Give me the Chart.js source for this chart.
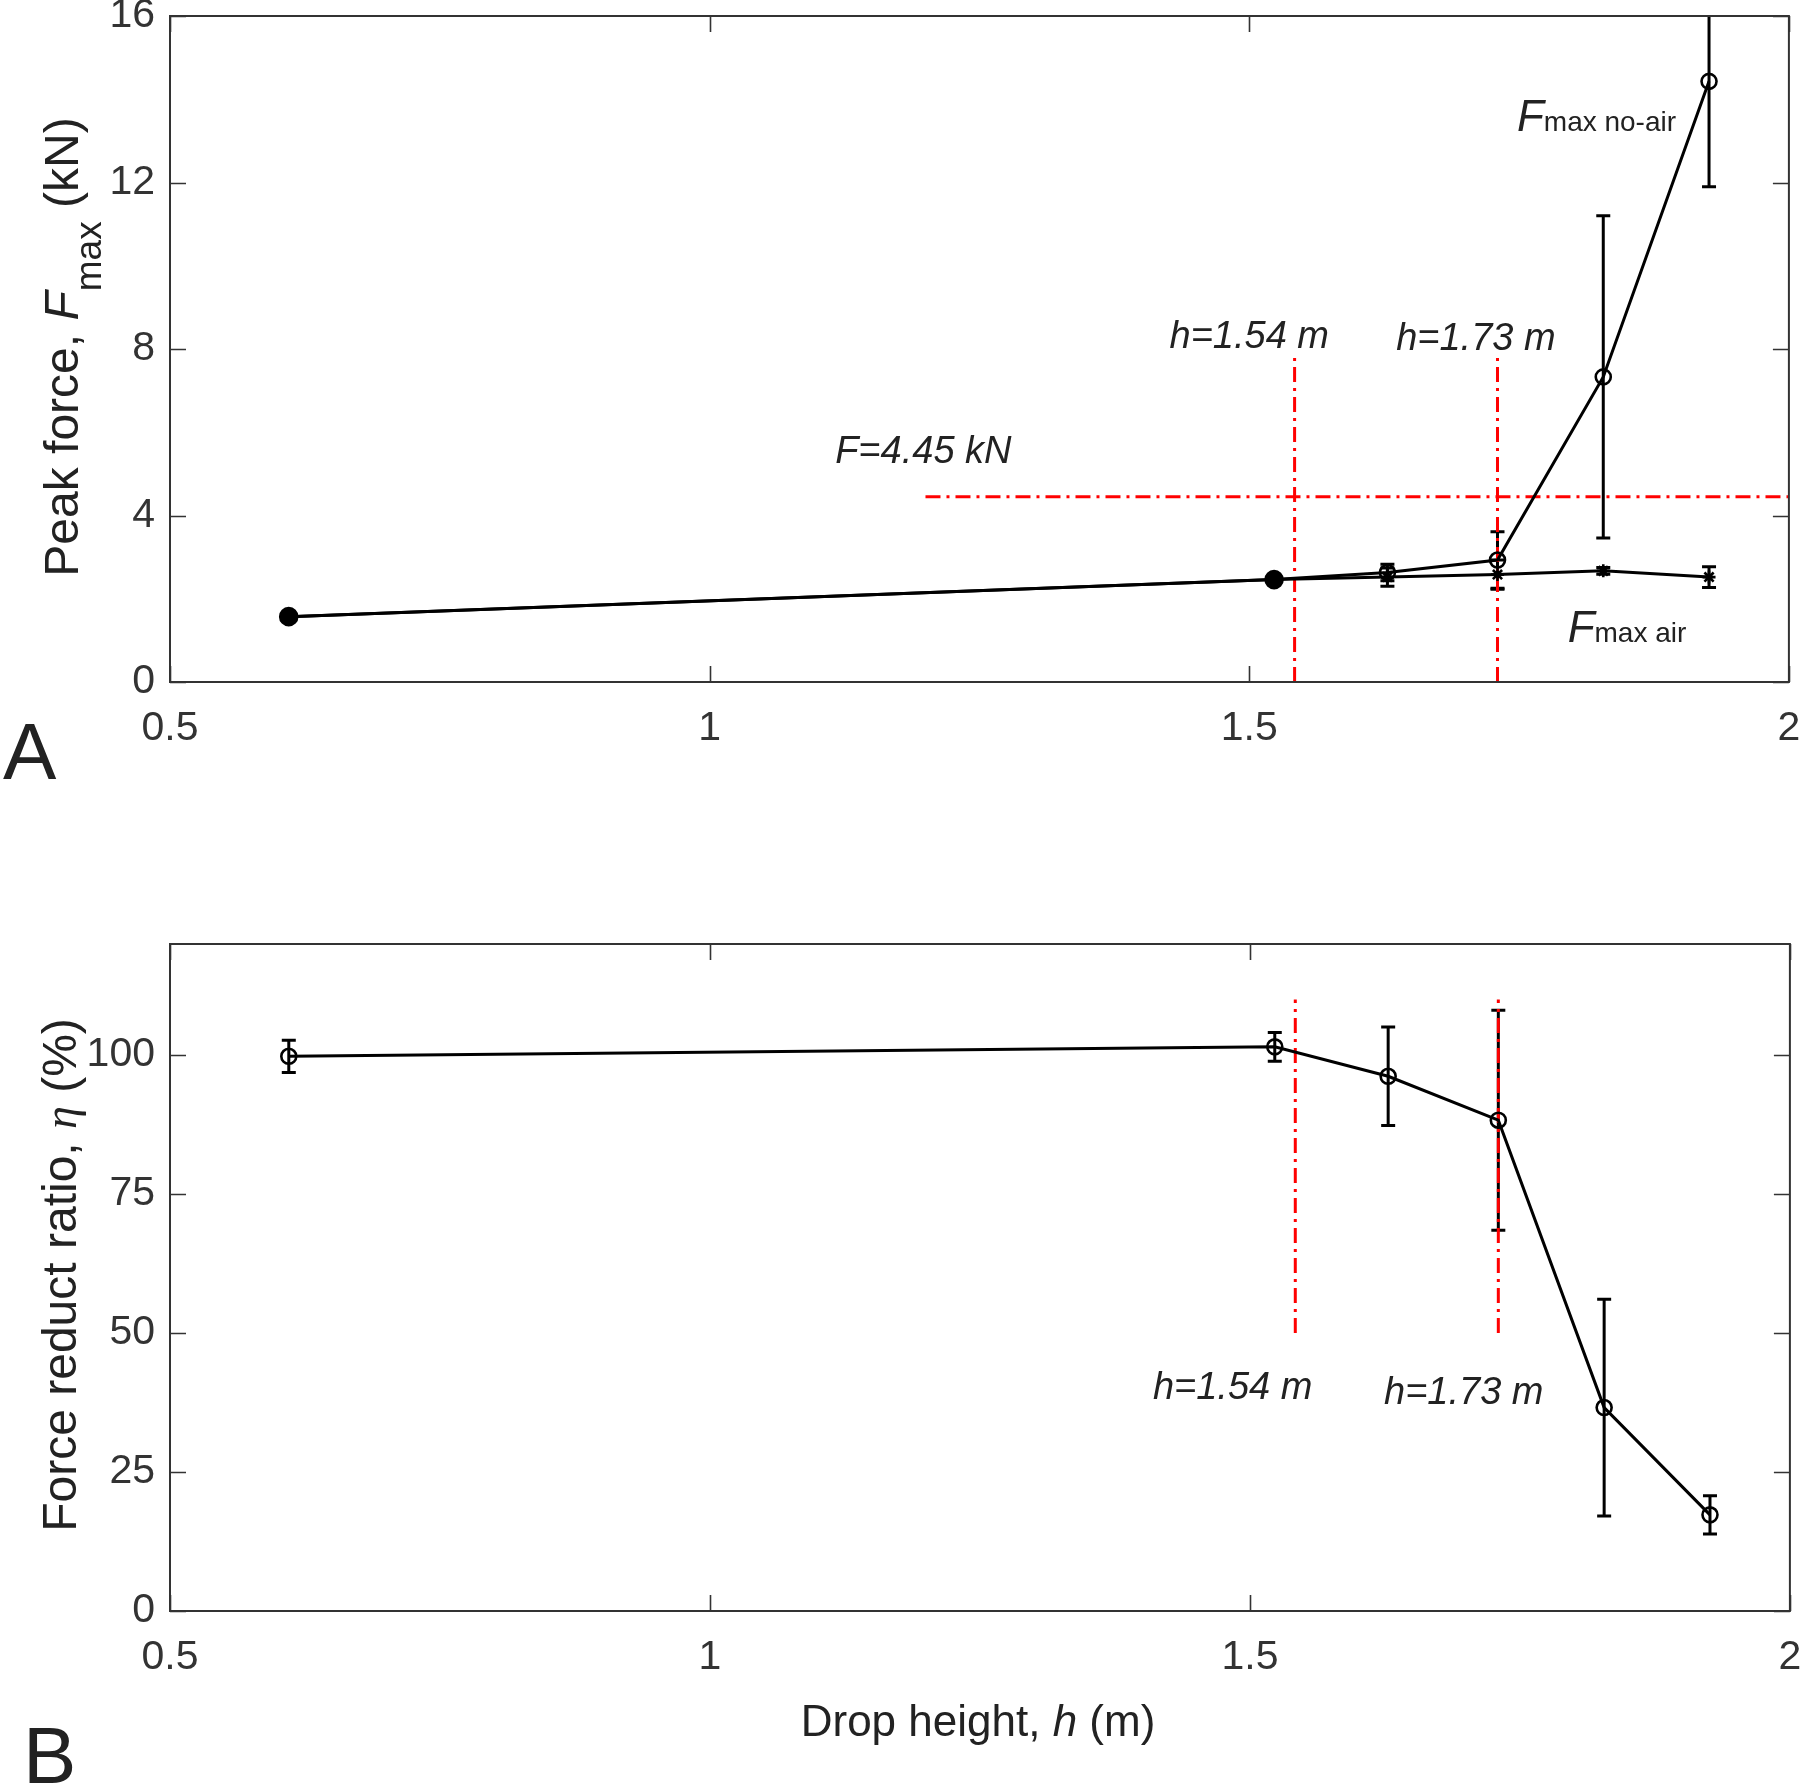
<!DOCTYPE html>
<html><head><meta charset="utf-8">
<script src="https://cdn.jsdelivr.net/npm/chart.js@4.4.1/dist/chart.umd.min.js"></script>
<style>
html,body{margin:0;padding:0;background:#fff;}
#wrap{position:relative;width:1800px;height:1786px;background:#fff;}
#c1box{position:absolute;left:0;top:0;width:1800px;height:800px;}
#c2box{position:absolute;left:0;top:800px;width:1800px;height:986px;}
canvas{display:block;}
</style></head><body>
<div id="wrap">
<div id="c1box"><canvas id="c1" width="1800" height="800"></canvas></div>
<div id="c2box"><canvas id="c2" width="1800" height="986"></canvas></div>
</div>
<script>
// ---- data ----
const heights = [0.61, 1.523, 1.628, 1.73, 1.828, 1.926];
const forceNoAir = [1.57, 2.46, 2.63, 2.93, 7.33, 14.43];
const forceNoAirErr = [0.05, 0.05, 0.2, 0.68, 3.87, 2.53];
const forceAir = [1.57, 2.46, 2.52, 2.58, 2.67, 2.52];
const forceAirErr = [0.05, 0.05, 0.22, 0.35, 0.08, 0.25];
const ratio = [99.8, 101.5, 96.2, 88.3, 36.6, 17.3];
const ratioErr = [2.9, 2.6, 8.85, 19.8, 19.5, 3.45];
const xTicks = [0.5, 1, 1.5, 2];
const forceTicks = [0, 4, 8, 12, 16];
const ratioTicks = [0, 25, 50, 75, 100];
const criticalHeights = [1.542, 1.73];
const criticalForce = 4.45;
const forceRefTop = 7.9;
const forceRefStartX = 1.2;
const ratioRefRange = [50, 110];

// ---- helpers ----
const SANS = "'Liberation Sans', Arial, Helvetica, sans-serif";
const pts = (xs, ys) => xs.map((x, i) => ({x, y: ys[i]}));
const RED = '#ff0000';
const DASHDOT = [15, 6, 3, 6];

function drawRich(ctx, parts, x, y, align) {
  let w = 0;
  parts.forEach(p => { ctx.font = p.f; p.w = ctx.measureText(p.t).width; w += p.w; });
  let cx = align === 'left' ? x : x - w / 2;
  ctx.textAlign = 'left';
  ctx.textBaseline = 'alphabetic';
  parts.forEach(p => { ctx.font = p.f; ctx.fillText(p.t, cx, y + (p.dy || 0)); cx += p.w; });
}

const errorBarPlugin = {
  id: 'errbars',
  beforeDatasetsDraw(chart) {
    const ctx = chart.ctx, a = chart.chartArea;
    const xs = chart.scales.x, ys = chart.scales.y;
    ctx.save();
    ctx.beginPath(); ctx.rect(a.left, a.top, a.width, a.height); ctx.clip();
    ctx.strokeStyle = '#000'; ctx.lineWidth = 3;
    chart.data.datasets.forEach(ds => {
      if (!ds.errors) return;
      ds.data.forEach((p, i) => {
        const e = ds.errors[i];
        const px = xs.getPixelForValue(p.x);
        const top = ys.getPixelForValue(p.y + e), bot = ys.getPixelForValue(p.y - e);
        const cap = 7;
        ctx.beginPath();
        ctx.moveTo(px, top); ctx.lineTo(px, bot);
        ctx.moveTo(px - cap, top); ctx.lineTo(px + cap, top);
        ctx.moveTo(px - cap, bot); ctx.lineTo(px + cap, bot);
        ctx.stroke();
      });
    });
    ctx.restore();
  }
};

const framePlugin = {
  id: 'frame',
  afterDraw(chart, args, opts) {
    const ctx = chart.ctx, a = chart.chartArea;
    const xs = chart.scales.x, ys = chart.scales.y;
    ctx.save();
    ctx.strokeStyle = '#333'; ctx.lineWidth = 2;
    ctx.strokeRect(a.left, a.top, a.width, a.height);
    const L = 16;
    ctx.beginPath();
    opts.xTicks.forEach(v => {
      const px = Math.round(xs.getPixelForValue(v)) + 0.5;
      ctx.moveTo(px, a.bottom); ctx.lineTo(px, a.bottom - L);
      ctx.moveTo(px, a.top); ctx.lineTo(px, a.top + L);
    });
    opts.yTicks.forEach(v => {
      const py = Math.round(ys.getPixelForValue(v)) + 0.5;
      ctx.moveTo(a.left, py); ctx.lineTo(a.left + L, py);
      ctx.moveTo(a.right, py); ctx.lineTo(a.right - L, py);
    });
    ctx.lineWidth = 1.6;
    ctx.stroke();
    // texts
    ctx.fillStyle = '#222';
    (opts.texts || []).forEach(t => {
      let x = t.px !== undefined ? t.px : xs.getPixelForValue(t.x);
      let y = t.py !== undefined ? t.py : ys.getPixelForValue(t.y);
      if (t.rot) {
        ctx.save(); ctx.translate(x, y); ctx.rotate(-Math.PI / 2);
        drawRich(ctx, t.parts, 0, 0, t.align || 'center');
        ctx.restore();
      } else {
        drawRich(ctx, t.parts, x, y, t.align || 'center');
      }
    });
    ctx.restore();
  }
};

function tickSetter(values) {
  return s => { s.ticks = values.map(v => ({value: v})); };
}

function makeOptions(yMin, yMax, yTickVals, xAxisHeight, padTop, texts) {
  return {
    responsive: false,
    devicePixelRatio: 1,
    animation: false,
    events: [],
    layout: {padding: {left: 0, right: 9, top: padTop, bottom: 0}},
    plugins: {
      legend: {display: false},
      tooltip: {enabled: false},
      frame: {xTicks: xTicks, yTicks: yTickVals, texts: texts}
    },
    scales: {
      x: {
        type: 'linear', position: 'bottom', min: 0.5, max: 2,
        grid: {display: false, drawTicks: false},
        border: {display: false},
        afterBuildTicks: tickSetter(xTicks),
        afterFit: s => { s.height = xAxisHeight; s.paddingLeft = 0; s.paddingRight = 0; },
        ticks: {
          padding: 22, color: '#333',
          font: {family: SANS, size: 41},
          maxRotation: 0, autoSkip: false,
          callback: v => String(v)
        }
      },
      y: {
        type: 'linear', min: yMin, max: yMax,
        grid: {display: false, drawTicks: false},
        border: {display: false},
        afterBuildTicks: tickSetter(yTickVals),
        afterFit: s => { s.width = 170; s.paddingTop = 0; s.paddingBottom = 0; },
        ticks: {
          padding: 15, color: '#333',
          font: {family: SANS, size: 41},
          autoSkip: false,
          callback: v => String(v)
        }
      }
    }
  };
}

const lineStyle = {showLine: true, borderColor: '#000', borderWidth: 3, tension: 0};
const refStyle = {showLine: true, borderColor: RED, borderWidth: 3, borderDash: DASHDOT, pointRadius: 0, tension: 0};

// ---- chart A ----
const textsA = [
  {x: 1.198, y: 5.26, parts: [{t: 'F=4.45 kN', f: `italic 38px ${SANS}`}]},
  {x: 1.50, y: 8.02, parts: [{t: 'h=1.54 m', f: `italic 38px ${SANS}`}]},
  {x: 1.71, y: 7.97, parts: [{t: 'h=1.73 m', f: `italic 38px ${SANS}`}]},
  {x: 1.748, y: 13.24, align: 'left', parts: [{t: 'F', f: `italic 44px ${SANS}`}, {t: 'max no-air', f: `28px ${SANS}`}]},
  {x: 1.795, y: 0.96, align: 'left', parts: [{t: 'F', f: `italic 44px ${SANS}`}, {t: 'max air', f: `28px ${SANS}`}]},
  {px: 78, py: 347, rot: true, parts: [
    {t: 'Peak force, ', f: `48px ${SANS}`},
    {t: 'F', f: `italic 48px ${SANS}`},
    {t: 'max', f: `37px ${SANS}`, dy: 23},
    {t: ' (kN)', f: `48px ${SANS}`}
  ]},
  {px: 3, py: 779, align: 'left', parts: [{t: 'A', f: `80px ${SANS}`}]}
];

new Chart(document.getElementById('c1'), {
  type: 'scatter',
  data: {datasets: [
    Object.assign({label: 'Fmax no-air', data: pts(heights, forceNoAir), errors: forceNoAirErr,
      pointStyle: 'circle', pointRadius: 7.5, pointBorderWidth: 2.6, pointBackgroundColor: 'rgba(0,0,0,0)', pointBorderColor: '#000'}, lineStyle),
    Object.assign({label: 'Fmax air', data: pts(heights, forceAir), errors: forceAirErr,
      pointStyle: ['circle', 'circle', 'star', 'star', 'star', 'star'], pointRadius: [8.5, 8.5, 6.5, 6.5, 6.5, 6.5],
      pointBorderWidth: 2.6, pointBackgroundColor: '#000', pointBorderColor: '#000'}, lineStyle),
    Object.assign({label: 'h1', data: [{x: criticalHeights[0], y: 0}, {x: criticalHeights[0], y: forceRefTop}]}, refStyle),
    Object.assign({label: 'h2', data: [{x: criticalHeights[1], y: 0}, {x: criticalHeights[1], y: forceRefTop}]}, refStyle),
    Object.assign({label: 'F', data: [{x: forceRefStartX, y: criticalForce}, {x: 2, y: criticalForce}]}, refStyle)
  ]},
  options: makeOptions(0, 16, forceTicks, 118, 16, textsA),
  plugins: [errorBarPlugin, framePlugin]
});

// ---- chart B ----
const textsB = [
  {x: 1.484, y: 38.1, parts: [{t: 'h=1.54 m', f: `italic 38px ${SANS}`}]},
  {x: 1.698, y: 37.2, parts: [{t: 'h=1.73 m', f: `italic 38px ${SANS}`}]},
  {px: 76, py: 475, rot: true, parts: [
    {t: 'Force reduct ratio, ', f: `48px ${SANS}`},
    {t: 'η', f: `italic 46px 'Liberation Serif', 'DejaVu Serif', serif`},
    {t: ' (%)', f: `48px ${SANS}`}
  ]},
  {px: 978, py: 936, parts: [
    {t: 'Drop height, ', f: `44px ${SANS}`},
    {t: 'h', f: `italic 44px ${SANS}`},
    {t: ' (m)', f: `44px ${SANS}`}
  ]},
  {px: 23, py: 983, align: 'left', parts: [{t: 'B', f: `80px ${SANS}`}]}
];

new Chart(document.getElementById('c2'), {
  type: 'scatter',
  data: {datasets: [
    Object.assign({label: 'eta', data: pts(heights, ratio), errors: ratioErr,
      pointStyle: 'circle', pointRadius: 7.5, pointBorderWidth: 2.6, pointBackgroundColor: 'rgba(0,0,0,0)', pointBorderColor: '#000'}, lineStyle),
    Object.assign({label: 'h1', data: [{x: criticalHeights[0], y: ratioRefRange[0]}, {x: criticalHeights[0], y: ratioRefRange[1]}]}, refStyle),
    Object.assign({label: 'h2', data: [{x: criticalHeights[1], y: ratioRefRange[0]}, {x: criticalHeights[1], y: ratioRefRange[1]}]}, refStyle)
  ]},
  options: makeOptions(0, 120, ratioTicks, 175, 144, textsB),
  plugins: [errorBarPlugin, framePlugin]
});
</script>
</body></html>
